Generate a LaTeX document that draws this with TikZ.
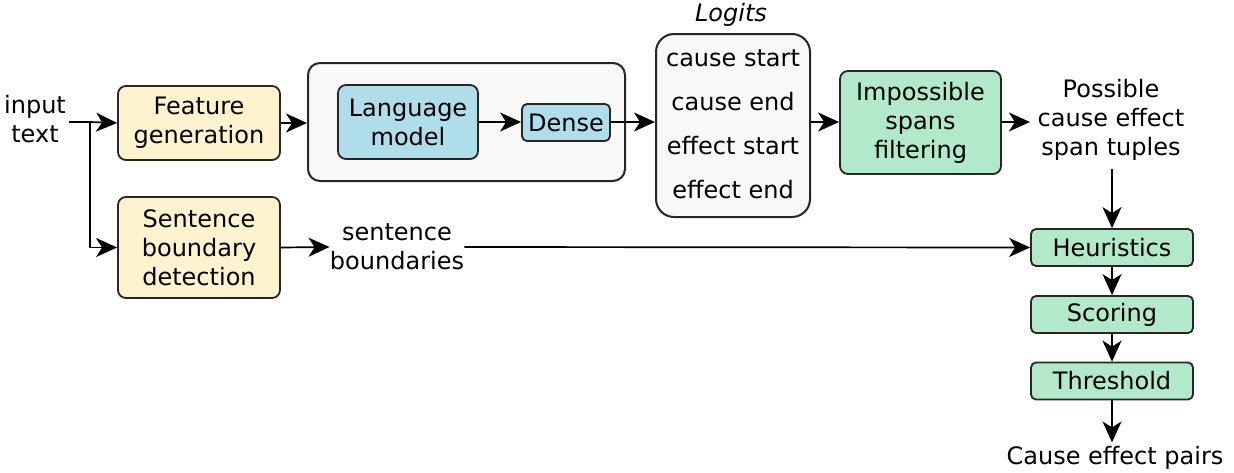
\documentclass[tikz,border=0pt]{standalone}
\usepackage{fontspec}
\setmainfont{DejaVu Sans}
\usetikzlibrary{arrows.meta}
\definecolor{yel}{HTML}{FEF3CF}
\definecolor{blu}{HTML}{B0DDEA}
\definecolor{grn}{HTML}{B2E9C9}
\definecolor{gry}{HTML}{F8F8F8}
\tikzset{
  x=0.5pt,y=-0.5pt,
  every node/.style={font=\fontsize{12}{14.5}\selectfont, align=center, inner sep=0pt},
  procbox/.style={draw=black!85, line width=0.9pt, rounded corners=4pt},
  ybox/.style={procbox, fill=yel},
  bbox/.style={procbox, fill=blu},
  gbox/.style={procbox, fill=grn},
  conn/.style={line width=0.85pt, -{Stealth[length=10.5pt,width=9.5pt,inset=3pt]}},
  plain/.style={line width=0.85pt},
}
\begin{document}
\begin{tikzpicture}
\useasboundingbox (0,0) rectangle (1234,472);
% input
\node (in) at (35,119) {input\\text};
\coordinate (j) at (90,122);
% yellow boxes
\node[ybox, minimum width=81pt, minimum height=37pt] (fg) at (199,123) {Feature\\generation};
\node[ybox, minimum width=81pt, minimum height=50.5pt] (sbd) at (199,247.5) {Sentence\\boundary\\detection};
% container
\node[procbox, fill=gry, line width=1pt, rounded corners=6pt, minimum width=158.5pt, minimum height=59pt] (cont) at (466.5,122) {};
\node[bbox, minimum width=70pt, minimum height=37pt] (lm) at (408,122) {Language\\model};
\node[bbox, rounded corners=2.5pt, minimum width=44pt, minimum height=18.5pt] (dense) at (566,122.5) {Dense};
% logits
\node[procbox, fill=gry, line width=1pt, rounded corners=9pt, minimum width=77pt, minimum height=91.5pt] (logits) at (733,125.5) {};
\node[font=\fontsize{12}{22}\selectfont] (lt) at (733,124) {cause start\\cause end\\effect start\\effect end};
\node[font=\fontsize{12}{14.5}\itshape] (lab) at (731,15) {Logits};
% impossible spans
\node[gbox, minimum width=80.5pt, minimum height=51.5pt] (isf) at (920.5,122.5) {Impossible\\spans\\filtering};
% possible tuples
\node (pt) at (1111,120) {Possible\\cause effect\\span tuples};
% sentence boundaries
\node (sb) at (397,247) {sentence\\boundaries};
% right column
\node[gbox, rounded corners=2.5pt, minimum width=81pt, minimum height=18.5pt] (heur) at (1112,247.5) {Heuristics};
\node[gbox, rounded corners=2.5pt, minimum width=81pt, minimum height=18.5pt] (sc) at (1112,314.5) {Scoring};
\node[gbox, rounded corners=2.5pt, minimum width=81pt, minimum height=18.5pt] (th) at (1112,381) {Threshold};
\node (cep) at (1115,458) {Cause effect pairs};
% connectors
\draw[plain] (in.east |- j) ++(3,0) -- (j);
\draw[conn] (j) -- (fg.west);
\draw[conn] (j) |- (sbd.west);
\draw[conn] (fg.east) -- (cont.west |- fg.east);
\draw[conn] (lm.east) -- (dense.west |- lm.east);
\draw[conn] (dense.east |- lm.east) -- (logits.west |- lm.east);
\draw[conn] (logits.east |- lm.east) -- (isf.west |- lm.east);
\draw[conn] (isf.east |- lm.east) -- ++(28,0);
\draw[conn] (sbd.east) -- (sb.west);
\draw[conn] (sb.east) -- (heur.west);
\draw[conn] (pt.south -| heur.north) ++(0,8) -- (heur.north);
\draw[conn] (heur.south) -- (sc.north);
\draw[conn] (sc.south) -- (th.north);
\draw[conn] (th.south) -- ++(0,42);
\end{tikzpicture}
\end{document}
